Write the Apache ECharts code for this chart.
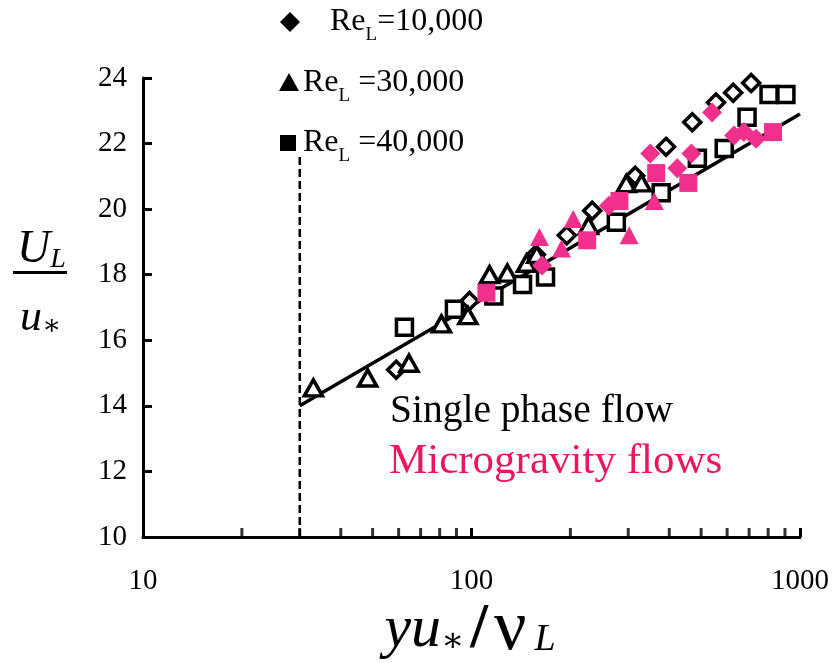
<!DOCTYPE html>
<html><head><meta charset="utf-8">
<script src="https://cdn.jsdelivr.net/npm/echarts@6/dist/echarts.min.js"></script>
<style>html,body{margin:0;padding:0;background:#fff}#c{width:832px;height:663px}</style>
</head><body><div id="c"></div>
<script>
// ---- data ----
const xTickLabels = [10, 100, 1000];
const yMin = 10, yMax = 24, yStep = 2;
const minorTicks = [20,30,40,50,60,70,80,90,200,300,400,500,600,700,800,900];

// single phase flow (hollow black)
const single10k = [[59,15.1],[98.6,17.2],[157,18.62],[195,19.2],[233,19.95],[315,21.02],[391,21.9],[470,22.65],[555,23.25],[626,23.55],[710,23.85]];
const single30k = [[33,14.55],[48.3,14.85],[64.5,15.3],[81,16.5],[97.5,16.75],[113.5,18.0],[128.5,18.05],[147,18.35],[158,18.62],[227,19.5],[296,20.78],[329,20.8]];
const single40k = [[62.5,16.4],[88.7,16.95],[117,17.35],[143,17.7],[168,17.93],[276,19.6],[378,20.5],[487,21.55],[588,21.85],[690,22.8],[805,23.5],[906,23.5]];

// microgravity flows (filled pink)
const micro10k = [[164,18.28],[262,20.1],[350,21.7],[423,21.25],[467,21.7],[540,22.95],[630,22.25],[675,22.35],[735,22.15]];
const micro30k = [[161,19.15],[188,18.8],[204,19.7],[302,19.2],[360,20.25]];
const micro40k = [[111,17.45],[225,19.05],[282,20.25],[365,21.1],[457,20.8],[828,22.35]];

// log-law line and y+ = 30 limit
const logLaw = [[30,14.0],[1000,22.9]];
const limitLine = [[30,10],[30,21.6]];

const legendNames = ['10,000', '30,000', '40,000'];
const noteSingle = 'Single phase flow';
const noteMicro = 'Microgravity flows';

// ---- chart ----
const FONT = '"Liberation Serif", "Times New Roman", "DejaVu Serif", serif';
const PINK = '#F0308C';
const chart = echarts.init(document.getElementById('c'), null, {renderer: 'canvas'});

function hollow(name, data, symbol, size) {
  return {name, type: 'scatter', data, symbol, symbolSize: size, z: 3,
    itemStyle: {color: '#fff', borderColor: '#000', borderWidth: 3.5, opacity: 1}};
}
function filled(name, data, symbol, size) {
  return {name, type: 'scatter', data, symbol, symbolSize: size, z: 4,
    itemStyle: {color: PINK, borderWidth: 0, opacity: 1}};
}
const sub = {fontFamily: FONT, fontSize: 19, lineHeight: 19, verticalAlign: 'bottom', fill: '#000', padding: [0, 0, -5, 0]};
const reg = {fontFamily: FONT, fontSize: 32, lineHeight: 36, fill: '#000'};

const option = {
  backgroundColor: '#fff',
  animation: false,
  textStyle: {fontFamily: FONT},
  grid: {left: 143, right: 31, top: 78, bottom: 126, containLabel: false},
  xAxis: {
    type: 'log', logBase: 10, min: 10, max: 1000,
    axisLine: {show: true, onZero: false, lineStyle: {color: '#000', width: 3}},
    axisTick: {show: true, inside: true, length: 9, lineStyle: {color: '#000', width: 3}},
    axisLabel: {color: '#000', fontFamily: FONT, fontSize: 29, margin: 30,
      formatter: v => (xTickLabels.includes(Math.round(v)) ? String(Math.round(v)) : '')},
    splitLine: {show: false}, minorTick: {show: false}
  },
  yAxis: {
    type: 'value', min: yMin, max: yMax, interval: yStep,
    axisLine: {show: true, lineStyle: {color: '#000', width: 3}},
    axisTick: {show: true, inside: true, length: 9, lineStyle: {color: '#000', width: 3}},
    axisLabel: {color: '#000', fontFamily: FONT, fontSize: 29, margin: 16},
    splitLine: {show: false}
  },
  series: [
    {type: 'line', data: limitLine, symbol: 'none', z: 2,
      lineStyle: {color: '#000', width: 2.5, type: [8, 4]}},
    {type: 'line', data: logLaw, symbol: 'none', z: 2,
      lineStyle: {color: '#000', width: 3.5}},
    {type: 'scatter', data: minorTicks.map(v => [v, yMin]), symbol: 'rect',
      symbolSize: [3, 9], symbolOffset: [0, -4.5], itemStyle: {color: '#000'}, z: 2, clip: false, silent: true},
    hollow('s10k', single10k, 'diamond', [17, 17]),
    hollow('s30k', single30k, 'triangle', [18, 16]),
    hollow('s40k', single40k, 'rect', [16, 16]),
    filled('m10k', micro10k, 'diamond', [20, 20]),
    filled('m30k', micro30k, 'triangle', [19, 18]),
    filled('m40k', micro40k, 'rect', [18, 18])
  ],
  graphic: [
    // legend
    {type: 'polygon', shape: {points: [[290,12],[300,22],[290,32],[280,22]]}, style: {fill: '#000'}},
    {type: 'text', x: 330, y: 22, style: {
      text: '{r|Re}{s|L}{r|=' + legendNames[0] + '}', verticalAlign: 'middle', rich: {r: reg, s: sub}}},
    {type: 'polygon', shape: {points: [[289,73],[299,91],[279,91]]}, style: {fill: '#000'}},
    {type: 'text', x: 303, y: 83, style: {
      text: '{r|Re}{s|L}{r| =' + legendNames[1] + '}', verticalAlign: 'middle', rich: {r: reg, s: sub}}},
    {type: 'rect', shape: {x: 280, y: 135, width: 16, height: 16}, style: {fill: '#000'}},
    {type: 'text', x: 303, y: 143, style: {
      text: '{r|Re}{s|L}{r| =' + legendNames[2] + '}', verticalAlign: 'middle', rich: {r: reg, s: sub}}},
    // annotations
    {type: 'text', x: 390, y: 412, style: {text: noteSingle, font: '39.5px ' + FONT, fill: '#000', verticalAlign: 'middle'}},
    {type: 'text', x: 389, y: 462, style: {text: noteMicro, font: '43px ' + FONT, fill: '#F0145C', verticalAlign: 'middle'}},
    // y title
    {type: 'text', x: 17, y: 250, style: {
      text: '{u|U}{s|L}', verticalAlign: 'middle',
      rich: {u: {fontFamily: FONT, fontStyle: 'italic', fontSize: 46, lineHeight: 48, fill: '#000'},
             s: {fontFamily: FONT, fontStyle: 'italic', fontSize: 28, lineHeight: 28, verticalAlign: 'bottom', fill: '#000'}}}},
    {type: 'rect', shape: {x: 13, y: 271, width: 54, height: 3}, style: {fill: '#000'}},
    {type: 'text', x: 20, y: 318, style: {
      text: '{u|u}{a|∗}', verticalAlign: 'middle',
      rich: {u: {fontFamily: FONT, fontStyle: 'italic', fontSize: 44, lineHeight: 46, fill: '#000'},
             a: {fontFamily: FONT, fontSize: 28, lineHeight: 28, verticalAlign: 'bottom', fill: '#000'}}}},
    // x title
    {type: 'text', x: 470, y: 630, style: {
      text: '{i|yu}{a|∗}{sl|/}{n|ν}{s|L}', align: 'center', verticalAlign: 'middle',
      rich: {i: {fontFamily: FONT, fontStyle: 'italic', fontSize: 60, lineHeight: 58, fill: '#000'},
             a: {fontFamily: FONT, fontSize: 34, lineHeight: 34, verticalAlign: 'bottom', fill: '#000', padding: [0, 6, 0, 0]},
             sl: {fontFamily: FONT, fontWeight: 'bold', fontSize: 64, lineHeight: 58, fill: '#000', padding: [0, 6, 0, 0]},
             n: {fontFamily: FONT, fontSize: 72, lineHeight: 58, fill: '#000', padding: [0, 8, 0, 0]},
             s: {fontFamily: FONT, fontStyle: 'italic', fontSize: 38, lineHeight: 38, verticalAlign: 'bottom', fill: '#000'}}}}
  ]
};
chart.setOption(option);
</script>
</body></html>
